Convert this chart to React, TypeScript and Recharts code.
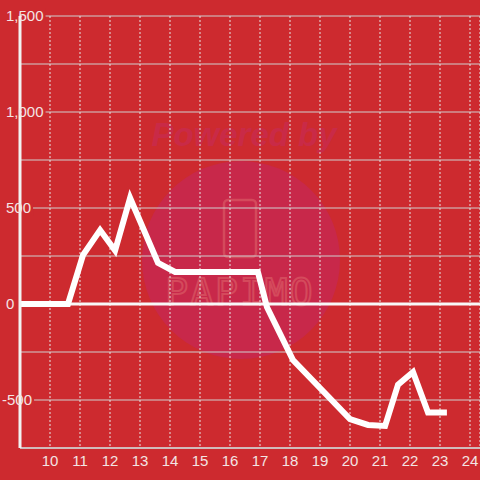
import React from "react";
import {
  LineChart,
  Line,
  XAxis,
  YAxis,
  CartesianGrid,
  ReferenceLine,
} from "recharts";

// hours of the day
const hours = [
  9, 10.6, 11.1, 11.67, 12.17, 12.67, 13.6, 14.17, 16.93, 17.23, 18.1, 20.0,
  20.6, 21.17, 21.6, 22.1, 22.6, 23.23,
];
const values = [
  0, 0, 255, 385, 278, 552, 214, 167, 167, -16, -292, -600, -630, -635, -420,
  -354, -565, -565,
];
const xTicks = [10, 11, 12, 13, 14, 15, 16, 17, 18, 19, 20, 21, 22, 23, 24];
const yTicks = [-750, -500, -250, 0, 250, 500, 750, 1000, 1250, 1500];

const BG = "#cd2a2f";
const LABEL = "#f3e4e4";

const data = hours.map((t, i) => ({ t, v: values[i] }));

const fmt = (v: number) => v.toLocaleString("en-US");

function YTick(props: any) {
  const { x, y, payload } = props;
  const v = payload.value as number;
  if (v % 500 !== 0) return null;
  const label = fmt(v);
  // rough text width for 15px Liberation Sans
  let w = 0;
  for (const ch of label) w += ch === "," ? 4.2 : ch === "-" ? 5 : 8.34;
  const start = v < 0 ? x - 18 : x - 14;
  const end = start + w + 2;
  return (
    <g>
      {end > x + 2 && (
        <rect x={x + 2} y={y - 8} width={end - x - 2} height={16} fill={BG} />
      )}
      <text
        x={start}
        y={y}
        dy="0.35em"
        textAnchor="start"
        fill={LABEL}
        fontSize={15}
        fontFamily="Liberation Sans, Arial, sans-serif"
      >
        {label}
      </text>
    </g>
  );
}

function Watermark() {
  return (
    <svg
      width={480}
      height={480}
      style={{ position: "absolute", left: 0, top: 0 }}
    >
      <circle cx={241} cy={260} r={99} fill="#c8284a" />
      <text
        x={244}
        y={146}
        textAnchor="middle"
        fontSize={33}
        fontWeight="bold"
        fontStyle="italic"
        fontFamily="Liberation Sans, Arial, sans-serif"
        fill="#c92a47"
      >
        Powered by
      </text>
      <rect
        x={224}
        y={200}
        width={32}
        height={57}
        rx={4}
        fill="none"
        stroke="#d44a5c"
        strokeWidth={2.5}
      />
      <text
        x={240}
        y={305}
        textAnchor="middle"
        fontSize={38}
        letterSpacing={2}
        fontFamily="DejaVu Sans Mono, monospace"
        fill="none"
        stroke="#d44a5c"
        strokeWidth={2}
      >
        PAPIMO
      </text>
    </svg>
  );
}

export default function App() {
  return (
    <div
      style={{
        position: "absolute",
        left: 0,
        top: 0,
        width: 480,
        height: 480,
        background: BG,
        overflow: "hidden",
      }}
    >
      <Watermark />
      <div style={{ position: "absolute", left: 0, top: 0 }}>
        <LineChart
          width={480}
          height={480}
          data={data}
          margin={{ top: 16, right: 0, bottom: 0, left: 0 }}
        >
          <CartesianGrid
            vertical={false}
            stroke="#cfcfcf"
            strokeWidth={1}
          />
          <CartesianGrid
            horizontal={false}
            stroke="#e6e6e6"
            strokeDasharray="2 2"
          />
          <XAxis
            type="number"
            dataKey="t"
            domain={[9, 24.333]}
            allowDataOverflow
            ticks={xTicks}
            height={32}
            axisLine={{ stroke: "#d0d0d0", strokeWidth: 1.5 }}
            tickLine={false}
            tickSize={0}
            tickMargin={7}
            tick={{
              fill: LABEL,
              fontSize: 15,
              fontFamily: "Liberation Sans, Arial, sans-serif",
            }}
          />
          <YAxis
            type="number"
            domain={[-750, 1500]}
            ticks={yTicks}
            width={20}
            axisLine={{ stroke: "#f2f2f2", strokeWidth: 3 }}
            tickLine={false}
            tickSize={0}
            tickMargin={0}
            tick={<YTick />}
          />
          <ReferenceLine y={0} stroke="#f8f8f8" strokeWidth={3} />
          <Line
            type="linear"
            dataKey="v"
            stroke="#ffffff"
            strokeWidth={6}
            dot={false}
            activeDot={false}
            isAnimationActive={false}
          />
        </LineChart>
      </div>
    </div>
  );
}
